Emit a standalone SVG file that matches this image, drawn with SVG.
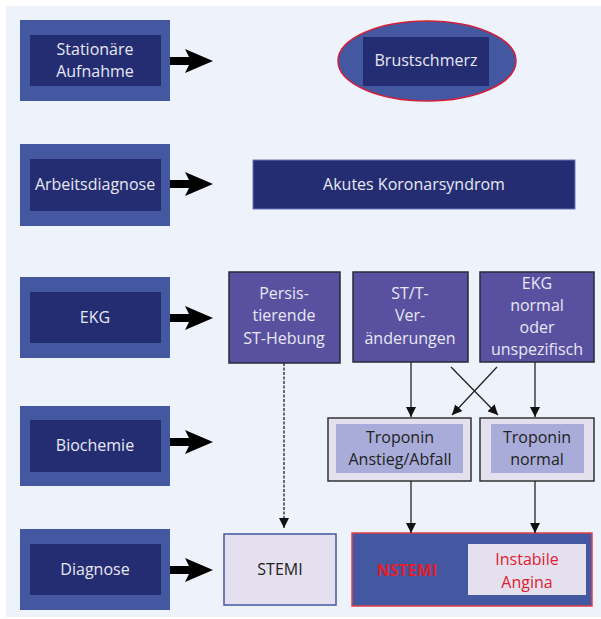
<svg xmlns="http://www.w3.org/2000/svg" width="601" height="619" viewBox="0 0 601 619">
<style>
text{font-family:"Open Sans","Liberation Sans",sans-serif;font-size:16px;text-anchor:middle}
.outer{fill:#4457a1}
.inner{fill:#252d72}
.wt{fill:#e6e8f4}
.dk{fill:#222}
.purple{fill:#5a50a0;stroke:#2a2a3a;stroke-width:1.5}
.trop{fill:#e4e0ee;stroke:#333;stroke-width:1.5}
.tropin{fill:#a9acd9}
.red{fill:#e0202e}
.line{stroke:#222;stroke-width:1.3;fill:none}
</style>
<defs>
<marker id="ah" viewBox="0 0 10 10" refX="10" refY="5" markerWidth="10" markerHeight="10" markerUnits="userSpaceOnUse" orient="auto">
<path d="M0,0 L10,5 L0,10 Z" fill="#111"/>
</marker>
<path id="bigarrow" d="M0,-4 L19,-4 L15,-12 L43,0 L15,12 L19,4 L0,4 Z" fill="#000"/>
</defs>
<rect x="6" y="6" width="595" height="611" fill="#eef2fb"/>

<g id="stationaere">
<rect class="outer" x="20" y="20" width="150" height="81"/>
<rect class="inner" x="30" y="35" width="131" height="51"/>
<text class="wt" x="95" y="55">Stationäre</text>
<text class="wt" x="95" y="77">Aufnahme</text>
</g>
<g id="arbeitsdiagnose">
<rect class="outer" x="20" y="144" width="150" height="82"/>
<rect class="inner" x="30" y="159" width="131" height="52"/>
<text class="wt" x="95" y="190">Arbeitsdiagnose</text>
</g>
<g id="ekg">
<rect class="outer" x="20" y="277" width="150" height="81"/>
<rect class="inner" x="30" y="292" width="131" height="51"/>
<text class="wt" x="95" y="323">EKG</text>
</g>
<g id="biochemie">
<rect class="outer" x="20" y="406" width="150" height="80"/>
<rect class="inner" x="30" y="420" width="131" height="52"/>
<text class="wt" x="95" y="451">Biochemie</text>
</g>
<g id="diagnose">
<rect class="outer" x="20" y="529" width="150" height="81"/>
<rect class="inner" x="30" y="544" width="131" height="51"/>
<text class="wt" x="95" y="575">Diagnose</text>
</g>

<g id="brustschmerz">
<ellipse cx="427" cy="61" rx="89" ry="40" fill="#4457a1" stroke="#d0203a" stroke-width="1.5"/>
<rect class="inner" x="363" y="37" width="126" height="49"/>
<text class="wt" x="426" y="66">Brustschmerz</text>
</g>
<g id="akutes">
<rect class="inner" x="253" y="160" width="322" height="49" stroke="#6a74b8" stroke-width="1"/>
<text class="wt" x="414" y="190">Akutes Koronarsyndrom</text>
</g>

<g id="persistierende">
<rect class="purple" x="229" y="272" width="111" height="91"/>
<text class="wt" x="284" y="299">Persis-</text>
<text class="wt" x="284" y="321">tierende</text>
<text class="wt" x="284" y="344">ST-Hebung</text>
</g>
<g id="stt">
<rect class="purple" x="353" y="272" width="115" height="90"/>
<text class="wt" x="410" y="299">ST/T-</text>
<text class="wt" x="410" y="321">Ver-</text>
<text class="wt" x="410" y="344">änderungen</text>
</g>
<g id="ekgnormal">
<rect class="purple" x="480" y="272" width="114" height="90"/>
<text class="wt" x="537" y="289">EKG</text>
<text class="wt" x="537" y="311">normal</text>
<text class="wt" x="537" y="333">oder</text>
<text class="wt" x="537" y="355">unspezifisch</text>
</g>

<g id="troponin-anstieg">
<rect class="trop" x="328" y="418" width="143" height="63"/>
<rect class="tropin" x="336" y="424" width="127" height="49"/>
<text class="dk" x="400" y="443">Troponin</text>
<text class="dk" x="400" y="465">Anstieg/Abfall</text>
</g>
<g id="troponin-normal">
<rect class="trop" x="480" y="418" width="114" height="63"/>
<rect class="tropin" x="491" y="424" width="93" height="49"/>
<text class="dk" x="537" y="443">Troponin</text>
<text class="dk" x="537" y="465">normal</text>
</g>

<g id="stemi">
<rect x="224" y="534" width="112" height="71" fill="#e4e0ee" stroke="#4457a1" stroke-width="1.5"/>
<text class="dk" x="280" y="575">STEMI</text>
</g>
<g id="nstemi">
<rect x="352" y="533" width="240" height="73" fill="#4457a1" stroke="#e0404e" stroke-width="1.5"/>
<text class="red" x="407" y="576" style="font-weight:bold">NSTEMI</text>
<rect x="468" y="544" width="118" height="51" fill="#e4e0ee"/>
<text class="red" x="527" y="565">Instabile</text>
<text class="red" x="527" y="588">Angina</text>
</g>

<g id="connectors">
<use href="#bigarrow" x="170" y="61"/>
<use href="#bigarrow" x="170" y="184"/>
<use href="#bigarrow" x="170" y="318"/>
<use href="#bigarrow" x="170" y="442"/>
<use href="#bigarrow" x="170" y="570"/>
<line class="line" x1="284" y1="363" x2="284" y2="528" stroke-dasharray="3,1.5" marker-end="url(#ah)"/>
<line class="line" x1="411" y1="362" x2="411" y2="417" marker-end="url(#ah)"/>
<line class="line" x1="535" y1="362" x2="535" y2="417" marker-end="url(#ah)"/>
<line class="line" x1="451" y1="367" x2="498" y2="415" marker-end="url(#ah)"/>
<line class="line" x1="497" y1="367" x2="452" y2="415" marker-end="url(#ah)"/>
<line class="line" x1="411" y1="481" x2="411" y2="533" marker-end="url(#ah)"/>
<line class="line" x1="535" y1="481" x2="535" y2="533" marker-end="url(#ah)"/>
</g>
</svg>
